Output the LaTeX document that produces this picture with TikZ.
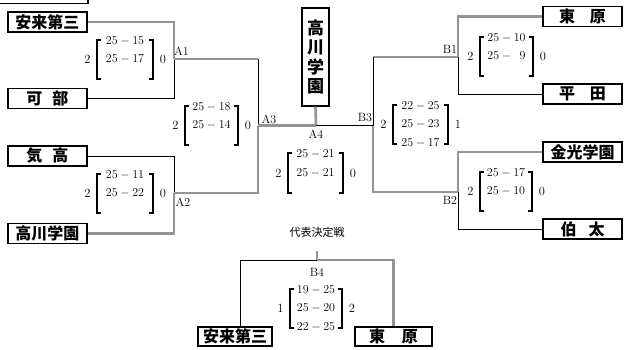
\documentclass[tikz,border=0pt]{standalone}
\usepackage{fontspec}
\newfontfamily\jp{Noto Sans CJK JP}
\newcommand\scoreblk[9]{%
  \draw[brk] ({#2+4},#4) -- (#2,#4) -- (#2,#5) -- ({#2+4},#5);
  \draw[brk] ({#3-4},#4) -- (#3,#4) -- (#3,#5) -- ({#3-4},#5);
  \node[num] (#1L) at ({#2-9.5},{(#4+#5)/2}) {#6};
  \node[num] (#1R) at ({#3+10},{(#4+#5)/2}) {#7};
  \node[num] (#1a) at ({(#2+#3)/2},{#4+1}) {#8};
  \node[num] (#1b) at ({(#2+#3)/2},{(#4+#5)/2}) {#9};
}
\begin{document}
\begin{tikzpicture}[x=1pt,y=-1pt,
  team/.style={draw,line width=1.4pt,minimum width=79pt,minimum height=20pt,inner sep=0pt,font=\jp\bfseries\fontsize{16}{16}\selectfont},
  win/.style={draw=black!42,line width=2.6pt},
  lose/.style={draw=black,line width=0.9pt},
  brk/.style={draw=black,line width=1.3pt},
  num/.style={font=\fontsize{12.5}{13}\selectfont,inner sep=0pt},
  lab/.style={font=\fontsize{12}{13}\selectfont,inner sep=0pt}]
\useasboundingbox (0,0) rectangle (624,349);
\fill[white] (0,0) rectangle (624,349);

% junction coordinates
\coordinate (A1) at (174,59);
\coordinate (A1c) at (258,59);
\coordinate (A2) at (174,193);
\coordinate (A2c) at (258,193);
\coordinate (A3) at (258,125.5);
\coordinate (A4) at (316,125.5);
\coordinate (B3) at (373,125.5);
\coordinate (B1) at (458,57);
\coordinate (B1c) at (373,57);
\coordinate (B2) at (458,192);
\coordinate (B2c) at (373,192);
\coordinate (B4) at (317,260);
\coordinate (B4t) at (317,251);
\coordinate (B4L) at (240,260);

% team boxes
\node[team] (t1) at (47.5,22) {安来第三};
\node[team] (t2) at (47.5,98.5) {可\hspace{10pt}部};
\node[team] (t3) at (47.5,156) {気\hspace{10pt}高};
\node[team] (t4) at (47.5,233.5) {高川学園};
\node[team] (r1) at (582.5,16.5) {東\hspace{15pt}原};
\node[team] (r2) at (582.5,94) {平\hspace{15pt}田};
\node[team] (r3) at (582.5,152) {金光学園};
\node[team] (r4) at (582.5,229) {伯\hspace{12pt}太};
\node[team,minimum width=74pt,minimum height=19pt] (b1) at (235,336.5) {安来第三};
\node[team,minimum width=77pt,minimum height=19pt] (b2) at (393.5,336.5) {東\hspace{17pt}原};
\node[team,minimum width=27pt,minimum height=98pt,align=center,font=\jp\bfseries\fontsize{17}{19.5}\selectfont] (c) at (315.5,57) {高\\川\\学\\園};

% partial box at the top edge
\draw[line width=1.4pt] (0,3.5) -- (88,3.5) -- (88,-3);

% bracket lines
\draw[win] (t1.east) -| (A1);
\draw[lose] (t2.east) -| (A1);
\draw[win] (A1) -- (A1c);
\draw[lose] (A1c) -- (A3);
\draw[lose] (t3.east) -| (A2);
\draw[win] (t4.east) -| (A2);
\draw[win] (A2) -- (A2c) -- (A3);
\draw[win] (A3) -- (A4);
\draw[win] (c.south) -- (A4);
\draw[lose] (A4) -- (B3);
\draw[win] (r1.west) -| (B1);
\draw[lose] (r2.west) -| (B1);
\draw[win] (B1) -- (B1c);
\draw[lose] (B1c) -- (B3);
\draw[win] (r3.west) -| (B2);
\draw[lose] (r4.west) -| (B2);
\draw[win] (B2) -- (B2c) -- (B3);
\draw[win] (B4t) -- (B4);
\draw[lose] (B4) -- (B4L) -- (B4L |- b1.north);
\draw[win] (B4) -| (b2.north);

% match labels
\node[lab] (lA1) at (181.5,51) {A1};
\node[lab] (lA2) at (183,202) {A2};
\node[lab] (lA3) at (269,119) {A3};
\node[lab] (lA4) at (316,134) {A4};
\node[lab] (lB3) at (365,118) {B3};
\node[lab] (lB1) at (450,49) {B1};
\node[lab] (lB2) at (450,200) {B2};
\node[lab] (lB4) at (317,272) {B4};
\node[font=\jp\fontsize{11}{11}\selectfont,inner sep=0pt] (fin) at (317,232) {代表決定戦};

% scores
\scoreblk{sA1}{97}{153}{40}{79}{2}{0}{$25-15$}{$25-17$}
\scoreblk{sA2}{97}{153}{174}{213}{2}{0}{$25-11$}{$25-22$}
\scoreblk{sA3}{185}{238}{106}{145}{2}{0}{$25-18$}{$25-14$}
\scoreblk{sA4}{288}{343}{153}{193}{2}{0}{$25-21$}{$25-21$}
\scoreblk{sB1}{480}{533}{37}{76}{2}{0}{$25-10$}{$25-\phantom{1}9$}
\scoreblk{sB2}{480}{532}{172}{211}{2}{0}{$25-17$}{$25-10$}
\scoreblk{sB3}{393}{448}{105}{144}{2}{1}{$22-25$}{$25-23$}
\node[num] (sB3c) at (420.5,143) {$25-17$};
\scoreblk{sB4}{290}{342}{289}{328}{1}{2}{$19-25$}{$25-20$}
\node[num] (sB4c) at (316,327) {$22-25$};
\end{tikzpicture}
\end{document}
